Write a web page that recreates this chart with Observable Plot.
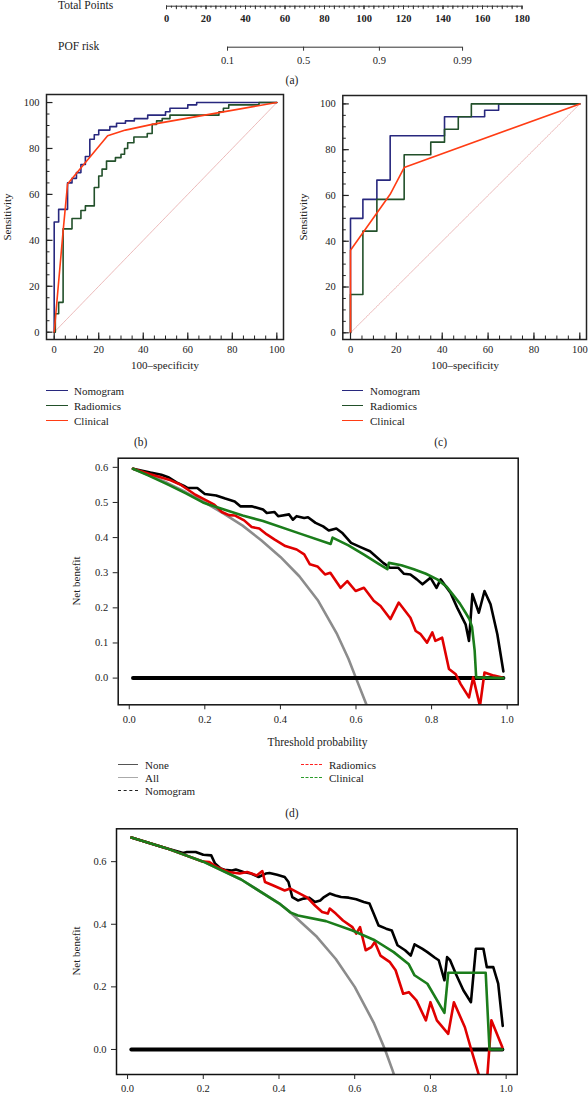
<!DOCTYPE html>
<html><head><meta charset="utf-8">
<script src="https://cdn.jsdelivr.net/npm/d3@7"></script>
<script src="https://cdn.jsdelivr.net/npm/@observablehq/plot@0.6"></script>
<style>
body{margin:0;background:#fff;}
#root{position:relative;width:588px;height:1095px;overflow:hidden;font-family:"Liberation Serif","Times New Roman","DejaVu Serif",serif;color:#222;}
.t{position:absolute;white-space:nowrap;line-height:1;}
.lg{position:absolute;height:0;}
</style></head><body><div id="root"></div>
<script>
// ---------- (a) nomogram axes ----------
const totalPointsLabels = [0, 20, 40, 60, 80, 100, 120, 140, 160, 180];
const pofLabels = ["0.1", "0.5", "0.9", "0.99"];
const pofPoints = [30.9, 69.4, 107.8, 149.9];

// ---------- (b) ROC training: [100-specificity, sensitivity] ----------
const nomogramB = [[0,0],[0,48],[2,48],[2,53.5],[6,53.5],[6,65],[8,65],[8,67],[10,67],[10,69.5],[12,69.5],[12,73],[14,73],[14,76.5],[16,76.5],[16,84],[18,84],[18,86],[20,86],[20,88],[25,88],[25,89.5],[28,89.5],[28,91],[32,91],[32,92],[36,92],[36,93],[42,93],[42,94.5],[50,94.5],[50,96],[52,96],[52,97.5],[60,97.5],[60,99],[64,99],[64,100],[100,100]];
const radiomicsB = [[0,0],[0.5,0],[0.5,8],[2,8],[2,13],[4,13],[4,45],[8,45],[8,49.5],[12,49.5],[12,53],[14,53],[14,55],[18,55],[18,63],[20,63],[20,68],[21.5,68],[21.5,71],[23.5,71],[23.5,74.5],[27.5,74.5],[27.5,76],[30,76],[30,77.5],[31.6,77.5],[31.6,80],[33,80],[33,82.5],[35.8,82.5],[35.8,85],[41.8,85],[41.8,86.5],[44,86.5],[44,90.5],[46,90.5],[46,92],[48.5,92],[48.5,93],[52,93],[52,94.5],[74,94.5],[74,96],[76,96],[76,97.5],[78.4,97.5],[78.4,99],[92,99],[92,100],[100,100]];
const clinicalB = [[0,0],[4,44],[6,64.5],[24,85.5],[32,88],[44,90.5],[100,100]];

// ---------- (c) ROC validation ----------
const nomogramC = [[0,0],[0,50],[5.4,50],[5.4,58.3],[11.5,58.3],[11.5,66.7],[17.3,66.7],[17.3,86.1],[41,86.1],[41,94.4],[58.5,94.4],[58.5,97.2],[64.6,97.2],[64.6,100],[100,100]];
const radiomicsC = [[0,0],[0,16.7],[5.4,16.7],[5.4,44.4],[11.5,44.4],[11.5,58.3],[23.4,58.3],[23.4,77.8],[35,77.8],[35,83.3],[41,83.3],[41,88.9],[47,88.9],[47,94.4],[52.7,94.4],[52.7,100],[100,100]];
const clinicalC = [[0,0],[0,36.1],[17.3,60.5],[23.4,72.2],[100,100]];
const diagonal = [[0,0],[100,100]];
const rocTicks = [0, 20, 40, 60, 80, 100];
const rocMinorTicks = [0,5,10,15,20,25,30,35,40,45,50,55,60,65,70,75,80,85,90,95,100];

// ---------- (d) DCA training: [threshold, net benefit] ----------
const noneD = [[0.01,0],[0.99,0]];
const allD = [[0.01,0.596],[0.05,0.579],[0.1,0.556],[0.15,0.529],[0.2,0.5],[0.25,0.468],[0.3,0.434],[0.35,0.392],[0.4,0.345],[0.45,0.29],[0.5,0.22],[0.55,0.125],[0.58,0.055],[0.6,0.0],[0.627,-0.074],[0.64,-0.11]];
const nomogramD = [[0.01,0.596],[0.056,0.585],[0.085,0.579],[0.105,0.571],[0.125,0.557],[0.145,0.547],[0.155,0.541],[0.18,0.541],[0.2,0.524],[0.23,0.52],[0.254,0.511],[0.279,0.503],[0.294,0.489],[0.324,0.489],[0.354,0.48],[0.364,0.47],[0.384,0.473],[0.394,0.461],[0.423,0.466],[0.433,0.451],[0.443,0.461],[0.463,0.456],[0.473,0.458],[0.493,0.442],[0.513,0.432],[0.528,0.42],[0.548,0.426],[0.563,0.414],[0.587,0.385],[0.612,0.373],[0.637,0.361],[0.652,0.347],[0.672,0.328],[0.69,0.314],[0.712,0.314],[0.727,0.297],[0.744,0.295],[0.761,0.281],[0.776,0.267],[0.797,0.286],[0.813,0.257],[0.824,0.281],[0.85,0.243],[0.868,0.2],[0.89,0.153],[0.899,0.106],[0.908,0.239],[0.925,0.186],[0.94,0.248],[0.956,0.21],[0.974,0.125],[0.99,0.019]];
const radiomicsD = [[0.01,0.596],[0.056,0.58],[0.105,0.565],[0.135,0.551],[0.175,0.522],[0.2,0.508],[0.225,0.494],[0.245,0.473],[0.264,0.464],[0.279,0.463],[0.304,0.449],[0.324,0.43],[0.344,0.426],[0.364,0.409],[0.384,0.395],[0.413,0.376],[0.443,0.366],[0.463,0.352],[0.478,0.324],[0.498,0.318],[0.518,0.295],[0.532,0.3],[0.559,0.257],[0.577,0.276],[0.599,0.248],[0.621,0.257],[0.647,0.22],[0.665,0.205],[0.691,0.168],[0.713,0.215],[0.744,0.172],[0.758,0.134],[0.771,0.125],[0.788,0.101],[0.802,0.13],[0.81,0.106],[0.828,0.115],[0.846,0.026],[0.864,0.011],[0.877,-0.017],[0.899,-0.055],[0.91,0.002],[0.928,-0.08],[0.94,0.016],[0.965,0.007],[0.987,0.002]];
const clinicalD = [[0.01,0.596],[0.05,0.577],[0.1,0.552],[0.15,0.526],[0.195,0.5],[0.21,0.494],[0.3,0.463],[0.354,0.447],[0.45,0.412],[0.533,0.382],[0.538,0.4],[0.58,0.378],[0.62,0.352],[0.66,0.325],[0.683,0.31],[0.687,0.328],[0.72,0.321],[0.753,0.31],[0.785,0.297],[0.815,0.281],[0.84,0.26],[0.859,0.234],[0.875,0.212],[0.89,0.186],[0.9,0.168],[0.907,0.146],[0.914,0.078],[0.918,0.002],[0.99,0]];

// ---------- (e) DCA validation ----------
const noneE = [[0.01,0],[0.99,0]];
const allE = [[0.01,0.677],[0.1,0.644],[0.2,0.6],[0.3,0.543],[0.4,0.467],[0.425,0.443],[0.5,0.36],[0.55,0.289],[0.6,0.2],[0.65,0.086],[0.68,0],[0.7,-0.067],[0.71,-0.104]];
const nomogramE = [[0.01,0.677],[0.1,0.644],[0.147,0.628],[0.157,0.631],[0.18,0.631],[0.2,0.622],[0.221,0.62],[0.231,0.594],[0.246,0.578],[0.256,0.574],[0.276,0.572],[0.286,0.575],[0.306,0.567],[0.326,0.562],[0.346,0.551],[0.365,0.562],[0.375,0.564],[0.395,0.558],[0.415,0.551],[0.425,0.535],[0.435,0.487],[0.45,0.476],[0.465,0.482],[0.48,0.485],[0.495,0.471],[0.509,0.476],[0.519,0.487],[0.534,0.498],[0.549,0.492],[0.564,0.487],[0.584,0.485],[0.604,0.48],[0.624,0.471],[0.639,0.466],[0.65,0.434],[0.663,0.396],[0.683,0.386],[0.698,0.38],[0.713,0.333],[0.733,0.317],[0.748,0.3],[0.758,0.336],[0.778,0.322],[0.792,0.311],[0.812,0.293],[0.822,0.285],[0.837,0.221],[0.844,0.295],[0.852,0.285],[0.867,0.242],[0.887,0.189],[0.907,0.151],[0.92,0.322],[0.94,0.322],[0.949,0.263],[0.966,0.263],[0.979,0.21],[0.991,0.075]];
const radiomicsE = [[0.01,0.677],[0.1,0.644],[0.2,0.6],[0.216,0.599],[0.236,0.583],[0.266,0.567],[0.296,0.562],[0.316,0.567],[0.341,0.556],[0.356,0.57],[0.363,0.535],[0.385,0.524],[0.415,0.508],[0.43,0.514],[0.455,0.498],[0.475,0.485],[0.495,0.46],[0.514,0.439],[0.529,0.434],[0.534,0.45],[0.55,0.434],[0.569,0.412],[0.594,0.391],[0.604,0.37],[0.614,0.391],[0.629,0.317],[0.644,0.327],[0.653,0.343],[0.668,0.3],[0.693,0.279],[0.708,0.253],[0.728,0.178],[0.743,0.183],[0.763,0.157],[0.788,0.093],[0.8,0.151],[0.817,0.093],[0.847,0.05],[0.862,0.151],[0.891,0.071],[0.906,0.007],[0.93,-0.09],[0.95,-0.09],[0.961,0.093],[0.99,0.007]];
const clinicalE = [[0.01,0.677],[0.1,0.644],[0.2,0.6],[0.3,0.543],[0.4,0.467],[0.43,0.438],[0.45,0.428],[0.524,0.41],[0.594,0.38],[0.653,0.349],[0.703,0.311],[0.743,0.272],[0.758,0.237],[0.792,0.21],[0.837,0.117],[0.847,0.245],[0.946,0.245],[0.956,0],[0.99,0]];
const thresholdTicks = [0, 0.2, 0.4, 0.6, 0.8, 1.0];
const nbTicksD = [0, 0.1, 0.2, 0.3, 0.4, 0.5, 0.6];
const nbTicksE = [0, 0.2, 0.4, 0.6];

// ---------- helpers ----------
const root = document.getElementById("root");
const FONT = '"Liberation Serif","Times New Roman","DejaVu Serif",serif';
function txt(s, x, y, o = {}) {
  const d = document.createElement("div");
  d.className = "t"; d.textContent = s;
  d.style.left = x + "px"; d.style.top = y + "px";
  d.style.fontSize = (o.size || 11) + "px";
  const tx = o.anchor === "middle" ? "-50%" : o.anchor === "end" ? "-100%" : "0";
  d.style.transform = `translate(${tx},-50%)` + (o.rotate ? ` rotate(${o.rotate}deg)` : "");
  root.append(d);
}
function legendLine(x1, x2, y, color, style = "solid", w = 1.6) {
  const d = document.createElement("div");
  d.className = "lg";
  d.style.left = x1 + "px"; d.style.top = (y - w / 2) + "px";
  d.style.width = (x2 - x1) + "px";
  d.style.borderTop = `${w}px ${style} ${color}`;
  root.append(d);
}
function place(svg, left, top) {
  svg.style.position = "absolute";
  svg.style.left = left + "px"; svg.style.top = top + "px";
  root.append(svg);
}
const X = d => d[0], Y = d => d[1];
const baseStyle = {fontFamily: FONT, fontSize: "10.5px", background: "transparent", color: "#222", overflow: "visible"};

// ---------- (a) ----------
const tpMinor = d3.range(0, 180.01, 2.5);
const tpMid = d3.range(0, 180.01, 5);
place(Plot.plot({
  width: 588, height: 30, marginLeft: 166, marginRight: 66.5, marginTop: 0, marginBottom: 24.3,
  x: {domain: [0, 180], axis: null}, y: {domain: [0, 1], axis: null},
  style: baseStyle,
  marks: [
    Plot.ruleY([0], {stroke: "#333", strokeWidth: 1}),
    Plot.axisX({ticks: tpMinor, tickSize: 2, tickFormat: () => "", label: null, stroke: "#333"}),
    Plot.axisX({ticks: tpMid, tickSize: 3.5, tickFormat: () => "", label: null, stroke: "#333"}),
    Plot.axisX({ticks: totalPointsLabels, tickSize: 3.5, tickPadding: 4.5, label: null, stroke: "#333", fontWeight: "bold"})
  ]
}), 0, 0);
place(Plot.plot({
  width: 588, height: 40, marginLeft: 166, marginRight: 66.5, marginTop: 10, marginBottom: 23.3,
  x: {domain: [0, 180], axis: null}, y: {domain: [0, 1], axis: null},
  style: baseStyle,
  marks: [
    Plot.ruleY([0], {x1: pofPoints[0], x2: pofPoints[pofPoints.length - 1], stroke: "#333", strokeWidth: 1}),
    Plot.axisX({ticks: pofPoints, tickSize: 4, tickPadding: 5.5, tickFormat: d => pofLabels[pofPoints.indexOf(d)], label: null, stroke: "#333"})
  ]
}), 0, 30);
txt("Total Points", 58, 6, {size: 11.5});
txt("POF risk", 58, 47, {size: 11.5});
txt("(a)", 292, 81, {anchor: "middle", size: 11.5});

// ---------- ROC panels ----------
const C_NOMO = "#28287e", C_RAD = "#22502a", C_CLIN = "#ff3c14";
function roc(o) {
  const innerW = o.width - o.mL - o.mR, innerH = o.height - o.mT - o.mB;
  return Plot.plot({
    width: o.width, height: o.height,
    marginLeft: o.mL, marginRight: o.mR, marginTop: o.mT, marginBottom: o.mB,
    x: {domain: o.xDom}, y: {domain: o.yDom},
    style: baseStyle,
    marks: [
      Plot.line(diagonal, {x: X, y: Y, stroke: "#e39a9a", strokeWidth: 0.7, strokeDasharray: "1.2,0.8"}),
      Plot.line(o.nomo, {x: X, y: Y, stroke: C_NOMO, strokeWidth: 1.6}),
      Plot.line(o.rad, {x: X, y: Y, stroke: C_RAD, strokeWidth: 1.6}),
      Plot.line(o.clin, {x: X, y: Y, stroke: C_CLIN, strokeWidth: 1.6}),
      Plot.tickX(rocMinorTicks, {x: d => d, insetTop: innerH - 3.5, stroke: "#222", strokeWidth: 1}),
      Plot.tickX(rocTicks, {x: d => d, insetTop: innerH - 6.5, stroke: "#222", strokeWidth: 1.2}),
      Plot.tickY(rocMinorTicks, {y: d => d, insetRight: innerW - 3.5, stroke: "#222", strokeWidth: 1}),
      Plot.tickY(rocTicks, {y: d => d, insetRight: innerW - 6.5, stroke: "#222", strokeWidth: 1.2}),
      Plot.axisX({ticks: rocTicks, tickSize: 0, tickPadding: 6, label: null}),
      Plot.axisY({ticks: rocTicks, tickSize: 0, tickPadding: 7, label: null}),
      Plot.frame({stroke: "#222", strokeWidth: 1.5})
    ]
  });
}
place(roc({width: 290, height: 290, mL: 46, mR: 7, mT: 9, mB: 36,
  xDom: [-3.46, 103.0], yDom: [-3.18, 103.5],
  nomo: nomogramB, rad: radiomicsB, clin: clinicalB}), 0, 85);
place(roc({width: 298, height: 290, mL: 52.3, mR: 2, mT: 10, mB: 36,
  xDom: [-3.36, 102.92], yDom: [-2.93, 103.67],
  nomo: nomogramC, rad: radiomicsC, clin: clinicalC}), 290, 85);

txt("Sensitivity", 7, 217, {anchor: "middle", rotate: -90, size: 11});
txt("Sensitivity", 303, 217, {anchor: "middle", rotate: -90, size: 11});
txt("100\u2013specificity", 165, 365, {anchor: "middle", size: 11});
txt("100\u2013specificity", 465, 365, {anchor: "middle", size: 11});
const rocLegend = [["Nomogram", C_NOMO], ["Radiomics", C_RAD], ["Clinical", C_CLIN]];
rocLegend.forEach(([name, col], i) => {
  const y = 391 + i * 15;
  legendLine(46, 68, y, col, "solid", 1.6); txt(name, 74, y, {size: 11});
  legendLine(342, 363, y, col, "solid", 1.6); txt(name, 370, y, {size: 11});
});
txt("(b)", 140.6, 443, {anchor: "middle", size: 11.5});
txt("(c)", 440.6, 443, {anchor: "middle", size: 11.5});

// ---------- DCA panels ----------
const D_RED = "#e00000", D_GREEN = "#1b7d1b", D_GRAY = "#8c8c8c";
function dca(o) {
  const lw = 2.6;
  return Plot.plot({
    width: o.width, height: o.height,
    marginLeft: o.mL, marginRight: o.mR, marginTop: o.mT, marginBottom: o.mB,
    x: {domain: [-0.0292, 1.0292]}, y: {domain: o.yDom},
    style: baseStyle,
    marks: [
      Plot.line(o.all, {x: X, y: Y, stroke: D_GRAY, strokeWidth: lw, clip: true}),
      Plot.line(o.none, {x: X, y: Y, stroke: "#000", strokeWidth: 4, strokeLinecap: "round", clip: true}),
      Plot.line(o.nomo, {x: X, y: Y, stroke: "#000", strokeWidth: lw, strokeLinejoin: "round", clip: true}),
      Plot.line(o.rad, {x: X, y: Y, stroke: D_RED, strokeWidth: lw, strokeLinejoin: "round", clip: true}),
      Plot.line(o.clin, {x: X, y: Y, stroke: D_GREEN, strokeWidth: lw, strokeLinejoin: "round", clip: true}),
      Plot.frame({stroke: "#111", strokeWidth: 1.5}),
      Plot.axisX({ticks: thresholdTicks, tickSize: 5, tickPadding: o.xPad, tickFormat: d3.format(".1f"), label: null}),
      Plot.axisY({ticks: o.yTicks, tickSize: 5, tickPadding: 5, tickFormat: d3.format(".1f"), label: null})
    ]
  });
}
place(dca({width: 470, height: 290, mL: 57.7, mR: 12.3, mT: 7.7, mB: 35.7, xPad: 6,
  yDom: [-0.076, 0.626], yTicks: nbTicksD,
  none: noneD, all: allD, nomo: nomogramD, rad: radiomicsD, clin: clinicalD}), 60, 450);
place(dca({width: 470, height: 275, mL: 56, mR: 13.3, mT: 8.3, mB: 21, xPad: 5,
  yDom: [-0.08, 0.705], yTicks: nbTicksE,
  none: noneE, all: allE, nomo: nomogramE, rad: radiomicsE, clin: clinicalE}), 60, 820);

txt("Net benefit", 76, 581, {anchor: "middle", rotate: -90, size: 11});
txt("Net benefit", 76, 951, {anchor: "middle", rotate: -90, size: 11});
txt("Threshold probability", 317.5, 743, {anchor: "middle", size: 11.5});
// DCA legend
legendLine(118, 138, 765, "#555", "solid", 1.3); txt("None", 145, 765, {size: 11});
legendLine(118, 138, 778, "#aaa", "solid", 1.3); txt("All", 145, 778, {size: 11});
legendLine(118, 138, 791, "#222", "dashed", 1.1); txt("Nomogram", 145, 791, {size: 11});
legendLine(301, 322, 765, "#ff2020", "dashed", 1.1); txt("Radiomics", 329, 765, {size: 11});
legendLine(301, 322, 778, "#2a9a2a", "dashed", 1.1); txt("Clinical", 329, 778, {size: 11});
txt("(d)", 292, 814, {anchor: "middle", size: 11.5});
</script></body></html>
